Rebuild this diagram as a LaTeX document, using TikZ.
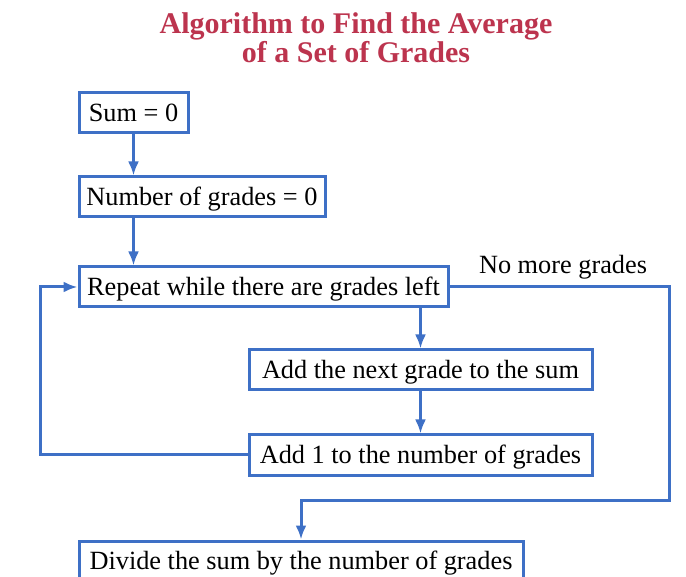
\documentclass[tikz,border=0pt]{standalone}
\usepackage{fontspec}
\setmainfont{Liberation Serif}
\usepackage{xcolor}
\usetikzlibrary{arrows.meta}
\definecolor{flowblue}{RGB}{62,112,198}
\definecolor{titlered}{RGB}{188,52,78}

\begin{document}
\begin{tikzpicture}[x=1pt,y=-1pt,
  box/.style={draw=flowblue,line width=3pt,minimum height=40pt,inner sep=0pt,
    font=\fontsize{26.3}{29}\selectfont,text height=20pt,text depth=2.5pt},
  titletext/.style={text=titlered,anchor=base,inner sep=0pt,font=\fontsize{30}{26}\selectfont\bfseries},
  flow/.style={draw=flowblue,line width=3pt,-{Latex[length=14pt,width=11pt]}}]
\useasboundingbox (0,0) rectangle (686,577);
\clip (0,0) rectangle (686,577);

\node[titletext] (title) at (356,34) {Algorithm to Find the Average};
\node[titletext] (subtitle) at (356,63) {of a Set of Grades};

\node[box,minimum width=109pt] (sum) at (133.5,113) {Sum = 0};
\node[box,minimum width=246pt] (count) at (202,197) {Number of grades = 0};
\node[box,minimum width=369pt] (repeat) at (263.5,287) {Repeat while there are grades left};
\node[box,minimum width=343pt] (addnext) at (420.5,370) {Add the next grade to the sum};
\node[box,minimum width=343pt] (addone) at (420.5,455) {Add 1 to the number of grades};
\node[box,minimum width=444pt] (divide) at (301,561) {Divide the sum by the number of grades};

\node[font=\fontsize{26.3}{29}\selectfont] (nomore) at (563,267) {No more grades};

\coordinate (loopL) at (40,455);
\coordinate (exitR) at (669,500);

\draw[flow] (sum) -- (count.north -| sum);
\draw[flow] (count.south -| sum) -- (repeat.north -| sum);
\draw[flow] (repeat.south -| addnext) -- (addnext);
\draw[flow] (addnext) -- (addone);
\draw[flow] (addone.west) -- (loopL) |- (repeat.west);
\draw[flow] (repeat.east) -| (exitR) -| (divide.north);
\end{tikzpicture}
\end{document}
